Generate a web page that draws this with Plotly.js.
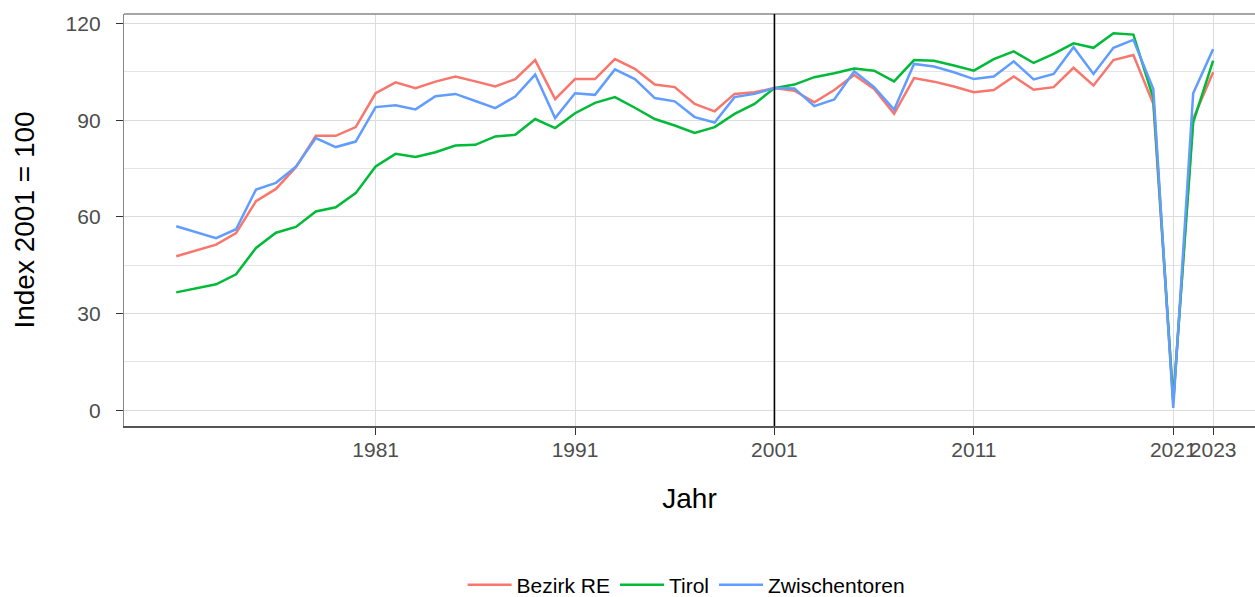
<!DOCTYPE html>
<html>
<head>
<meta charset="utf-8">
<script src="https://cdn.plot.ly/plotly-3.0.1.min.js"></script>
<style>
  html, body { margin: 0; padding: 0; background: #ffffff; }
  #chart { width: 1255px; height: 597px; }
</style>
</head>
<body>
<div id="chart"></div>
<script>
const years = [];
for (let y = 1971; y <= 2023; y++) years.push(y);

const seriesNames = ["Bezirk RE", "Tirol", "Zwischentoren"];
const seriesColors = ["#F8766D", "#00BA38", "#619CFF"];

const bezirkRE = [
  47.8, 49.5, 51.4, 55.0, 64.9, 68.7, 75.4, 85.2, 85.2, 87.9,
  98.4, 101.8, 100.0, 102.0, 103.6, 102.1, 100.5, 102.8, 108.7, 96.6,
  102.8, 102.8, 109.0, 106.0, 101.1, 100.3, 95.1, 92.8, 98.2, 98.7,
  100.0, 99.2, 95.6, 99.4, 104.1, 99.7, 92.0, 103.1, 102.0, 100.5,
  98.7, 99.4, 103.6, 99.5, 100.3, 106.3, 100.8, 108.7, 110.3, 95.1,
  2.6, 90.5, 104.9
];

const tirol = [
  36.6, 37.9, 39.1, 42.2, 50.4, 55.1, 56.9, 61.7, 63.0, 67.4,
  75.7, 79.6, 78.6, 80.1, 82.2, 82.4, 85.0, 85.5, 90.4, 87.6,
  92.2, 95.4, 97.2, 93.9, 90.4, 88.4, 86.1, 87.9, 92.0, 95.1,
  100.0, 101.1, 103.4, 104.6, 106.1, 105.4, 102.1, 108.7, 108.5, 107.0,
  105.4, 109.0, 111.4, 107.8, 110.6, 113.9, 112.5, 117.0, 116.6, 96.9,
  3.1, 89.4, 108.5
];

const zwischentoren = [
  57.1, 55.2, 53.4, 56.2, 68.5, 70.6, 75.6, 84.5, 81.7, 83.4,
  94.1, 94.7, 93.4, 97.5, 98.2, 96.0, 93.8, 97.4, 104.2, 90.7,
  98.4, 97.9, 105.8, 102.8, 96.9, 95.9, 91.0, 89.3, 97.2, 98.2,
  100.0, 99.9, 94.4, 96.5, 105.2, 100.3, 93.3, 107.5, 106.7, 104.9,
  102.8, 103.6, 108.3, 102.7, 104.4, 112.7, 104.4, 112.5, 115.0, 99.7,
  0.7, 98.4, 112.1
];

const xTickVals = [1981, 1991, 2001, 2011, 2021, 2023];
const xTickText = ["1981", "1991", "2001", "2011", "2021", "2023"];
const yTickVals = [0, 30, 60, 90, 120];
const refYear = 2001;

const allValues = [bezirkRE, tirol, zwischentoren];

const traces = allValues.map((vals, i) => ({
  type: "scatter",
  mode: "lines",
  x: years,
  y: vals,
  name: seriesNames[i],
  line: { color: seriesColors[i], width: 2.5 },
  hoverinfo: "x+y+name"
}));

const FONT = "Liberation Sans, Arial, Helvetica, sans-serif";

const layout = {
  width: 1255,
  height: 597,
  paper_bgcolor: "#ffffff",
  plot_bgcolor: "#ffffff",
  margin: { l: 124, r: 0, t: 14, b: 171, autoexpand: false },
  font: { family: FONT, size: 21, color: "#4d4d4d" },
  showlegend: true,
  legend: {
    orientation: "h",
    x: 0.497,
    xanchor: "center",
    yref: "container",
    y: 0.02,
    yanchor: "middle",
    itemwidth: 44,
    font: { family: FONT, size: 21, color: "#000000" },
    bgcolor: "rgba(0,0,0,0)",
    traceorder: "normal"
  },
  xaxis: {
    automargin: false,
    range: [1968.38, 2025.10],
    tickmode: "array",
    tickvals: xTickVals,
    ticktext: xTickText,
    tickangle: 0,
    ticks: "outside",
    ticklen: 7,
    tickwidth: 1,
    tickcolor: "#333333",
    ticklabelstandoff: -3,
    tickfont: { family: FONT, size: 21, color: "#4d4d4d" },
    showgrid: true,
    gridcolor: "#dcdcdc",
    gridwidth: 1,
    zeroline: false,
    showline: true,
    linecolor: "#555555",
    linewidth: 1.5,
    title: { text: "Jahr", font: { family: FONT, size: 28, color: "#000000" }, standoff: 28 }
  },
  yaxis: {
    automargin: false,
    range: [-4.88, 123.0],
    tickmode: "array",
    tickvals: yTickVals,
    ticks: "outside",
    ticklen: 7,
    tickwidth: 1,
    tickcolor: "#333333",
    ticklabelstandoff: 11,
    tickfont: { family: FONT, size: 21, color: "#4d4d4d" },
    showgrid: true,
    gridcolor: "#dcdcdc",
    gridwidth: 1,
    minor: { dtick: 15, tick0: 0, showgrid: true, gridcolor: "#e4e4e4", gridwidth: 1, ticks: "" },
    zeroline: false,
    showline: true,
    linecolor: "#888888",
    linewidth: 1.2,
    title: { text: "Index 2001 = 100", font: { family: FONT, size: 28, color: "#000000" }, standoff: 22 }
  },
  shapes: [
    {
      type: "line", xref: "paper", yref: "paper",
      x0: 0, x1: 1, y0: 1, y1: 1,
      line: { color: "#888888", width: 1.5 }, layer: "above"
    },
    {
      type: "line", xref: "x", yref: "paper",
      x0: refYear, x1: refYear, y0: 0, y1: 1,
      line: { color: "#000000", width: 1.6 }, layer: "above"
    }
  ]
};

Plotly.newPlot("chart", traces, layout, { displayModeBar: false, staticPlot: true });
</script>
</body>
</html>
